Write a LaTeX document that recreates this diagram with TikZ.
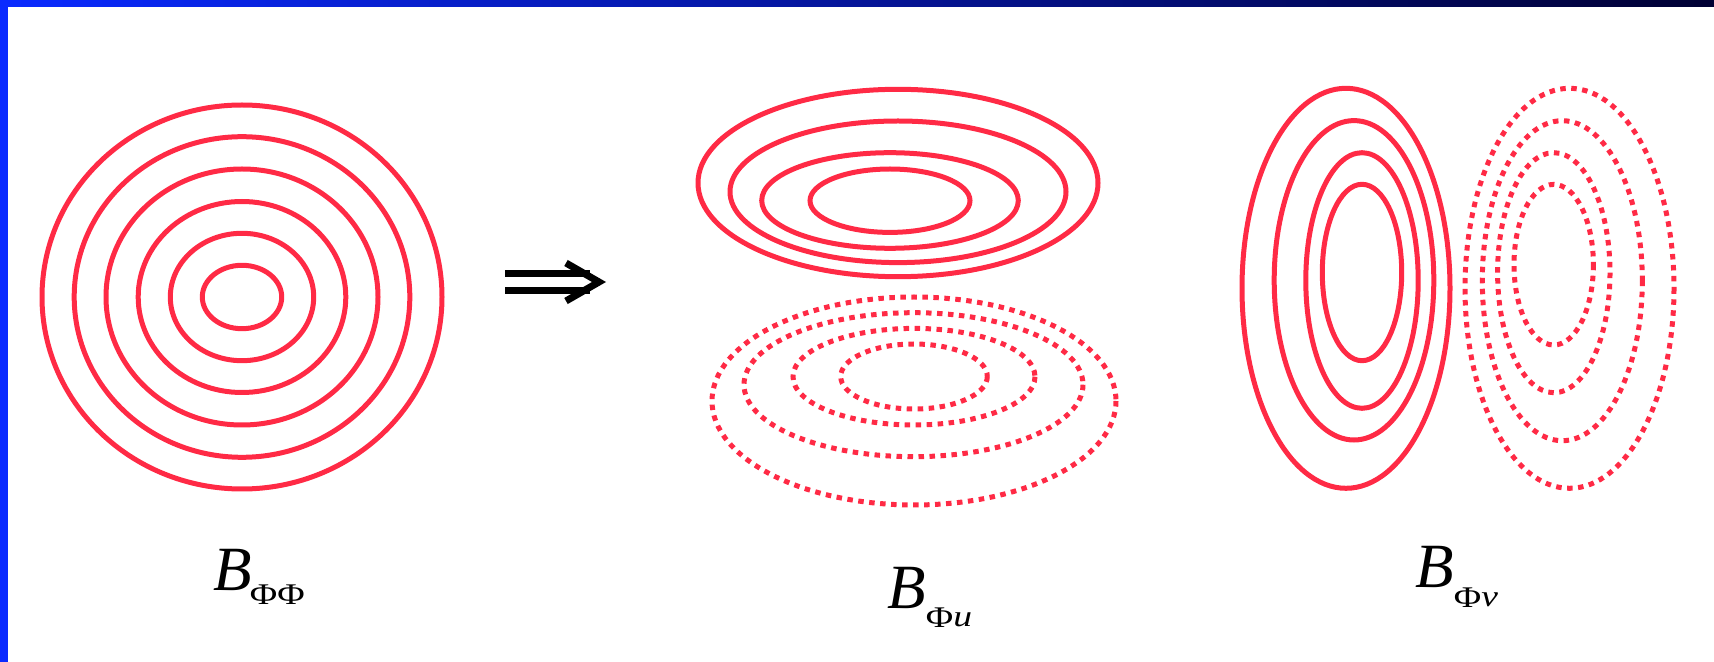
\documentclass[tikz,border=0pt]{standalone}
\usepackage{graphicx}
\usepackage{fontspec}
\setmainfont{Liberation Serif}
\definecolor{contourred}{RGB}{255,42,69}
\definecolor{barblue}{RGB}{10,42,255}
\definecolor{barnavy}{RGB}{0,0,51}

\begin{document}
\begin{tikzpicture}[
    x=0.5pt, y=-0.5pt,
    contour/.style={
        draw=contourred,
        line width=2.5pt
    },
    dotted contour/.style={
        contour,
        dash pattern=on 2.75pt off 2.75pt
    },
    maplabel/.style={
        anchor=base west,
        inner sep=0pt,
        font=\fontsize{31.5}{36}\selectfont
    }
]
\newcommand\subtext[1]{\scalebox{1.25}[1]{\fontsize{15}{17}\selectfont #1}}
\useasboundingbox (0,0) rectangle (1714,662);

% Slide frame
\shade[left color=barblue, right color=barnavy] (0,0) rectangle (1714,7);
\fill[barblue] (0,0) rectangle (8,662);

% Nearly circular contours
\foreach \rx/\ry in {200/192, 167.8/160.3, 136/128, 103.8/95.5, 71.7/63.7, 39.7/31.7}{
    \draw[contour] (242,297) ellipse[x radius=\rx, y radius=\ry];
}
\node[maplabel] (bpp) at (213,590)
    {\textit{B}\kern-1pt\raisebox{-7pt}{\subtext{ΦΦ}}};

% Implication arrow
\draw[line width=3.5pt] (505,274) -- (590,274) (505,290.5) -- (590,290.5);
\draw[line width=3.5pt] (566,263) -- (599,282) -- (566,301);

% Flattened contours, split in u
\foreach \cx/\cy/\rx/\ry in {
    898/183/200/93.7,
    898/191.8/168/70.8,
    890/200.5/128.3/47.8,
    890/200.7/80/31.7
}{
    \draw[contour] (\cx,\cy) ellipse[x radius=\rx, y radius=\ry];
}
\foreach \cx/\cy/\rx/\ry in {
    914/401/202/104,
    913.5/384.7/169.5/72,
    914/376.7/121/48.3,
    914/376.5/73.3/32.5
}{
    \draw[dotted contour] (\cx,\cy) ellipse[x radius=\rx, y radius=\ry];
}
\node[maplabel] (bpu) at (887,608)
    {\textit{B}\raisebox{-9.5pt}{\subtext{Φ\textit{u}}}};

% Elongated contours, split in v
\foreach \cx/\cy/\rx/\ry in {
    1346/288.3/104/200,
    1354/280.3/79.8/159.7,
    1362/280.5/56.2/127.8,
    1362/272.5/39.7/88.2
}{
    \draw[contour] (\cx,\cy) ellipse[x radius=\rx, y radius=\ry];
}
\foreach \cx/\cy/\rx/\ry in {
    1569.5/288.3/104.5/200,
    1562.3/280.7/80/160,
    1553.8/272.7/56.2/120,
    1553.7/264.7/39.7/80.3
}{
    \draw[dotted contour] (\cx,\cy) ellipse[x radius=\rx, y radius=\ry];
}
\node[maplabel] (bpv) at (1415,588)
    {\textit{B}\raisebox{-9.5pt}{\subtext{Φ\textit{v}}}};
\end{tikzpicture}
\end{document}
